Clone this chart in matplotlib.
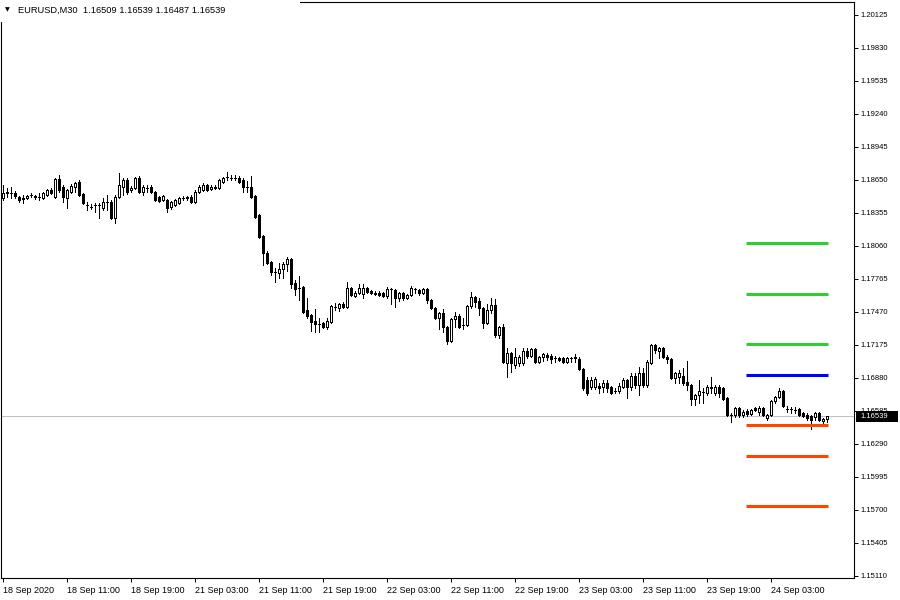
import numpy as np
import matplotlib
matplotlib.use("Agg")
import matplotlib.pyplot as plt
from matplotlib.patches import Rectangle

plt.rcParams['font.family'] = ['Liberation Sans', 'DejaVu Sans']

# EURUSD M30 candles, 18 Sep 2020 03:00 -> 24 Sep 2020 10:00
opens = [
    1.18488, 1.18533, 1.18533, 1.18533, 1.18497, 1.18480, 1.18488, 1.18515, 1.18506, 1.18497,
    1.18488, 1.18515, 1.18560, 1.18497, 1.18659, 1.18587, 1.18488, 1.18542, 1.18587, 1.18632,
    1.18524, 1.18426, 1.18408, 1.18426, 1.18426, 1.18399, 1.18453, 1.18453, 1.18310, 1.18497,
    1.18587, 1.18650, 1.18560, 1.18578, 1.18667, 1.18542, 1.18578, 1.18587, 1.18542, 1.18497,
    1.18471, 1.18471, 1.18408, 1.18426, 1.18444, 1.18488, 1.18488, 1.18497, 1.18453, 1.18542,
    1.18560, 1.18605, 1.18570, 1.18587, 1.18578, 1.18632, 1.18676, 1.18667, 1.18667, 1.18667,
    1.18650, 1.18587, 1.18587, 1.18506, 1.18337, 1.18149, 1.17997, 1.17917, 1.17827, 1.17818,
    1.17854, 1.17899, 1.17944, 1.17729, 1.17684, 1.17693, 1.17488, 1.17443, 1.17389, 1.17362,
    1.17371, 1.17335, 1.17380, 1.17514, 1.17505, 1.17541, 1.17514, 1.17684, 1.17612, 1.17639,
    1.17630, 1.17684, 1.17657, 1.17630, 1.17639, 1.17639, 1.17612, 1.17675, 1.17666, 1.17594,
    1.17639, 1.17594, 1.17621, 1.17675, 1.17666, 1.17639, 1.17675, 1.17577, 1.17505, 1.17416,
    1.17461, 1.17335, 1.17210, 1.17408, 1.17434, 1.17353, 1.17353, 1.17523, 1.17603, 1.17568,
    1.17505, 1.17371, 1.17488, 1.17532, 1.17264, 1.17335, 1.17014, 1.17103, 1.16996, 1.17014,
    1.17014, 1.17121, 1.17076, 1.17139, 1.17023, 1.17067, 1.17085, 1.17076, 1.17058, 1.17058,
    1.17058, 1.17023, 1.17058, 1.17058, 1.17050, 1.16961, 1.16862, 1.16799, 1.16799, 1.16808,
    1.16799, 1.16835, 1.16799, 1.16763, 1.16763, 1.16799, 1.16862, 1.16799, 1.16897, 1.16817,
    1.16924, 1.16817, 1.17014, 1.17175, 1.17121, 1.17148, 1.17067, 1.17050, 1.16880, 1.16888,
    1.16897, 1.16844, 1.16817, 1.16692, 1.16727, 1.16754, 1.16745, 1.16799, 1.16745, 1.16799,
    1.16790, 1.16700, 1.16549, 1.16549, 1.16611, 1.16549, 1.16585, 1.16558, 1.16611, 1.16576,
    1.16611, 1.16522, 1.16549, 1.16674, 1.16709, 1.16763, 1.16602, 1.16602, 1.16594, 1.16602,
    1.16567, 1.16549, 1.16540, 1.16531, 1.16567, 1.16495, 1.16509,
]
highs = [
    1.18605, 1.18578, 1.18587, 1.18551, 1.18506, 1.18515, 1.18515, 1.18533, 1.18515, 1.18533,
    1.18542, 1.18570, 1.18578, 1.18667, 1.18694, 1.18605, 1.18570, 1.18614, 1.18632, 1.18650,
    1.18533, 1.18453, 1.18435, 1.18444, 1.18444, 1.18488, 1.18515, 1.18471, 1.18515, 1.18712,
    1.18667, 1.18667, 1.18596, 1.18676, 1.18685, 1.18605, 1.18605, 1.18605, 1.18551, 1.18506,
    1.18515, 1.18480, 1.18462, 1.18480, 1.18497, 1.18506, 1.18506, 1.18515, 1.18560, 1.18605,
    1.18623, 1.18614, 1.18605, 1.18605, 1.18659, 1.18676, 1.18721, 1.18694, 1.18694, 1.18685,
    1.18667, 1.18641, 1.18685, 1.18515, 1.18346, 1.18158, 1.18015, 1.17926, 1.17863, 1.17908,
    1.17917, 1.17962, 1.17953, 1.17756, 1.17791, 1.17702, 1.17594, 1.17452, 1.17497, 1.17416,
    1.17380, 1.17416, 1.17532, 1.17550, 1.17550, 1.17559, 1.17738, 1.17693, 1.17657, 1.17720,
    1.17720, 1.17693, 1.17666, 1.17657, 1.17657, 1.17648, 1.17693, 1.17684, 1.17675, 1.17648,
    1.17648, 1.17630, 1.17702, 1.17684, 1.17675, 1.17684, 1.17684, 1.17586, 1.17514, 1.17470,
    1.17497, 1.17344, 1.17416, 1.17470, 1.17452, 1.17416, 1.17532, 1.17648, 1.17612, 1.17594,
    1.17514, 1.17541, 1.17594, 1.17586, 1.17344, 1.17362, 1.17148, 1.17112, 1.17148, 1.17085,
    1.17148, 1.17148, 1.17148, 1.17148, 1.17076, 1.17103, 1.17103, 1.17094, 1.17076, 1.17067,
    1.17067, 1.17067, 1.17067, 1.17094, 1.17067, 1.16969, 1.16888, 1.16888, 1.16888, 1.16835,
    1.16862, 1.16862, 1.16808, 1.16790, 1.16835, 1.16880, 1.16871, 1.16924, 1.16924, 1.16978,
    1.16969, 1.17041, 1.17183, 1.17183, 1.17157, 1.17157, 1.17085, 1.17058, 1.16933, 1.16951,
    1.16969, 1.17032, 1.16826, 1.16736, 1.16862, 1.16790, 1.16817, 1.16888, 1.16817, 1.16817,
    1.16799, 1.16709, 1.16567, 1.16620, 1.16620, 1.16594, 1.16602, 1.16602, 1.16620, 1.16629,
    1.16620, 1.16558, 1.16683, 1.16718, 1.16790, 1.16772, 1.16629, 1.16620, 1.16620, 1.16611,
    1.16576, 1.16567, 1.16549, 1.16576, 1.16576, 1.16522, 1.16539,
]
lows = [
    1.18471, 1.18497, 1.18488, 1.18488, 1.18453, 1.18444, 1.18480, 1.18497, 1.18480, 1.18471,
    1.18480, 1.18506, 1.18524, 1.18488, 1.18542, 1.18453, 1.18399, 1.18533, 1.18542, 1.18506,
    1.18435, 1.18382, 1.18391, 1.18364, 1.18310, 1.18382, 1.18382, 1.18302, 1.18265, 1.18488,
    1.18515, 1.18524, 1.18542, 1.18570, 1.18533, 1.18515, 1.18542, 1.18533, 1.18462, 1.18453,
    1.18462, 1.18364, 1.18391, 1.18417, 1.18435, 1.18471, 1.18471, 1.18444, 1.18444, 1.18533,
    1.18551, 1.18551, 1.18560, 1.18570, 1.18570, 1.18623, 1.18650, 1.18650, 1.18650, 1.18623,
    1.18542, 1.18542, 1.18488, 1.18310, 1.18131, 1.17890, 1.17899, 1.17800, 1.17738, 1.17773,
    1.17773, 1.17836, 1.17684, 1.17621, 1.17577, 1.17461, 1.17416, 1.17300, 1.17291, 1.17291,
    1.17326, 1.17318, 1.17371, 1.17488, 1.17479, 1.17505, 1.17505, 1.17612, 1.17603, 1.17630,
    1.17594, 1.17639, 1.17630, 1.17621, 1.17612, 1.17603, 1.17594, 1.17541, 1.17514, 1.17568,
    1.17577, 1.17586, 1.17612, 1.17639, 1.17621, 1.17630, 1.17550, 1.17497, 1.17408, 1.17318,
    1.17291, 1.17183, 1.17201, 1.17335, 1.17326, 1.17318, 1.17344, 1.17505, 1.17514, 1.17443,
    1.17326, 1.17362, 1.17461, 1.17246, 1.17237, 1.17014, 1.16888, 1.16933, 1.16969, 1.16987,
    1.16996, 1.17058, 1.17067, 1.17014, 1.17014, 1.17032, 1.17041, 1.17014, 1.17023, 1.17032,
    1.17014, 1.17014, 1.17023, 1.17023, 1.16951, 1.16772, 1.16727, 1.16782, 1.16782, 1.16745,
    1.16754, 1.16754, 1.16736, 1.16745, 1.16745, 1.16790, 1.16700, 1.16772, 1.16790, 1.16727,
    1.16799, 1.16799, 1.17005, 1.17103, 1.17058, 1.17058, 1.17014, 1.16871, 1.16835, 1.16835,
    1.16817, 1.16772, 1.16638, 1.16638, 1.16656, 1.16656, 1.16727, 1.16745, 1.16727, 1.16709,
    1.16683, 1.16540, 1.16486, 1.16531, 1.16531, 1.16531, 1.16540, 1.16549, 1.16585, 1.16549,
    1.16540, 1.16504, 1.16540, 1.16656, 1.16700, 1.16620, 1.16576, 1.16567, 1.16567, 1.16540,
    1.16531, 1.16504, 1.16424, 1.16504, 1.16495, 1.16477, 1.16487,
]
closes = [
    1.18533, 1.18542, 1.18533, 1.18506, 1.18471, 1.18488, 1.18506, 1.18515, 1.18497, 1.18497,
    1.18533, 1.18560, 1.18533, 1.18659, 1.18560, 1.18497, 1.18560, 1.18596, 1.18623, 1.18515,
    1.18444, 1.18426, 1.18408, 1.18426, 1.18426, 1.18453, 1.18453, 1.18310, 1.18497, 1.18605,
    1.18650, 1.18542, 1.18578, 1.18667, 1.18542, 1.18587, 1.18578, 1.18542, 1.18471, 1.18462,
    1.18506, 1.18399, 1.18453, 1.18471, 1.18488, 1.18488, 1.18497, 1.18453, 1.18542, 1.18587,
    1.18605, 1.18560, 1.18587, 1.18578, 1.18650, 1.18667, 1.18676, 1.18667, 1.18667, 1.18632,
    1.18587, 1.18587, 1.18497, 1.18319, 1.18140, 1.17997, 1.17908, 1.17827, 1.17827, 1.17854,
    1.17899, 1.17944, 1.17720, 1.17675, 1.17684, 1.17470, 1.17434, 1.17380, 1.17362, 1.17362,
    1.17335, 1.17389, 1.17523, 1.17514, 1.17541, 1.17514, 1.17684, 1.17621, 1.17639, 1.17684,
    1.17684, 1.17648, 1.17639, 1.17639, 1.17621, 1.17612, 1.17675, 1.17675, 1.17594, 1.17639,
    1.17594, 1.17621, 1.17684, 1.17675, 1.17639, 1.17675, 1.17577, 1.17505, 1.17416, 1.17461,
    1.17335, 1.17210, 1.17408, 1.17434, 1.17335, 1.17353, 1.17523, 1.17603, 1.17559, 1.17505,
    1.17371, 1.17488, 1.17532, 1.17264, 1.17335, 1.17023, 1.17103, 1.17014, 1.17067, 1.17067,
    1.17121, 1.17076, 1.17139, 1.17023, 1.17067, 1.17094, 1.17067, 1.17050, 1.17058, 1.17041,
    1.17023, 1.17058, 1.17058, 1.17067, 1.16961, 1.16790, 1.16745, 1.16862, 1.16871, 1.16790,
    1.16835, 1.16790, 1.16745, 1.16763, 1.16808, 1.16862, 1.16799, 1.16897, 1.16817, 1.16924,
    1.16817, 1.17023, 1.17175, 1.17130, 1.17148, 1.17067, 1.17050, 1.16880, 1.16924, 1.16924,
    1.16835, 1.16817, 1.16692, 1.16727, 1.16763, 1.16754, 1.16799, 1.16790, 1.16799, 1.16745,
    1.16692, 1.16549, 1.16549, 1.16611, 1.16549, 1.16576, 1.16558, 1.16594, 1.16594, 1.16611,
    1.16549, 1.16549, 1.16674, 1.16709, 1.16763, 1.16629, 1.16602, 1.16602, 1.16594, 1.16549,
    1.16540, 1.16522, 1.16504, 1.16567, 1.16504, 1.16513, 1.16539,
]

# horizontal levels drawn on the right side
level_prices = [1.18087, 1.17631, 1.17184, 1.16907, 1.16460, 1.16183, 1.15736]
level_colors = ['#32CD32', '#32CD32', '#32CD32', '#0000FF', '#FF4500', '#FF4500', '#FF4500']
level_start, level_end = 185.75, 206.25

price_ticks = [1.15110, 1.15405, 1.15700, 1.15995, 1.16290, 1.16585, 1.16880, 1.17175, 1.17470,
               1.17765, 1.18060, 1.18355, 1.18650, 1.18945, 1.19240, 1.19535, 1.19830, 1.20125]
time_tick_pos = [0, 16, 32, 48, 64, 80, 96, 112, 128, 144, 160, 176, 192]
time_tick_labels = ['18 Sep 2020', '18 Sep 11:00', '18 Sep 19:00', '21 Sep 03:00', '21 Sep 11:00',
                    '21 Sep 19:00', '22 Sep 03:00', '22 Sep 11:00', '22 Sep 19:00', '23 Sep 03:00',
                    '23 Sep 11:00', '23 Sep 19:00', '24 Sep 03:00']
header = 'EURUSD,M30  1.16509 1.16539 1.16487 1.16539'

o = np.array(opens)
h = np.array(highs)
l = np.array(lows)
c = np.array(closes)
idx = np.arange(len(o))

fig = plt.figure(figsize=(9, 6), dpi=100)
ax = fig.add_axes([1 / 900, 22 / 600, 853 / 900, 576 / 600])
ax.set_xlim(-0.5, 212.75)
ax.set_ylim(1.150921, 1.202412)

# last price line
ax.axhline(c[-1], color='#C0C0C0', lw=0.72, zorder=1)

# candles: wick behind, body on top (hollow = up, filled = down)
ax.vlines(idx, l, h, color='black', lw=0.72, zorder=2, antialiased=False)
body_lo = np.minimum(o, c)
body_h = np.abs(c - o)
face = np.where(c > o, 'white', 'black')
ax.bar(idx, body_h, bottom=body_lo, width=0.62, color=face, edgecolor='black',
       linewidth=0.72, zorder=3, antialiased=False)

# levels
for p, col in zip(level_prices, level_colors):
    ax.hlines(p, level_start, level_end, color=col, lw=2.2, zorder=4, capstyle='butt')

# axes
ax.yaxis.tick_right()
ax.set_yticks(price_ticks)
ax.set_yticklabels([f'{v:.5f}' for v in price_ticks])
ax.set_xticks(time_tick_pos)
ax.set_xticklabels(time_tick_labels)
for lbl in ax.get_xticklabels():
    lbl.set_horizontalalignment('left')
ax.tick_params(axis='both', direction='out', length=3, width=0.72, colors='black', pad=1.5)
ax.tick_params(axis='y', labelsize=5.5)
ax.tick_params(axis='x', labelsize=6.5, pad=2.5)
for s in ax.spines.values():
    s.set_linewidth(0.8)

# current price box on the price scale
px_w = 1 / 853          # one pixel in axes fraction
px_h = 0.0000894        # one pixel in price units
ytrans = ax.get_yaxis_transform()
ax.add_patch(Rectangle((1 + 2 * px_w, c[-1] - 5.5 * px_h), 42 * px_w, 11 * px_h,
                       transform=ytrans, fc='black', ec='none', clip_on=False, zorder=9))
ax.text(1 + 6 * px_w, c[-1], f'{c[-1]:.5f}', transform=ytrans, color='white', fontsize=5.5,
        va='center', ha='left', clip_on=False, zorder=10)

# header
fig.patches.append(Rectangle((0, 1 - 22 / 600), 300 / 900, 22 / 600, transform=fig.transFigure,
                             fc='white', ec='none', zorder=5))
fig.text(5 / 900, 1 - 10 / 600, '▼', fontsize=4.5, va='center', ha='left', zorder=6,
         family=['DejaVu Sans'])
fig.text(18 / 900, 1 - 10 / 600, header, fontsize=6.7, va='center', ha='left', zorder=6)

fig.savefig('out.png', dpi=100)
